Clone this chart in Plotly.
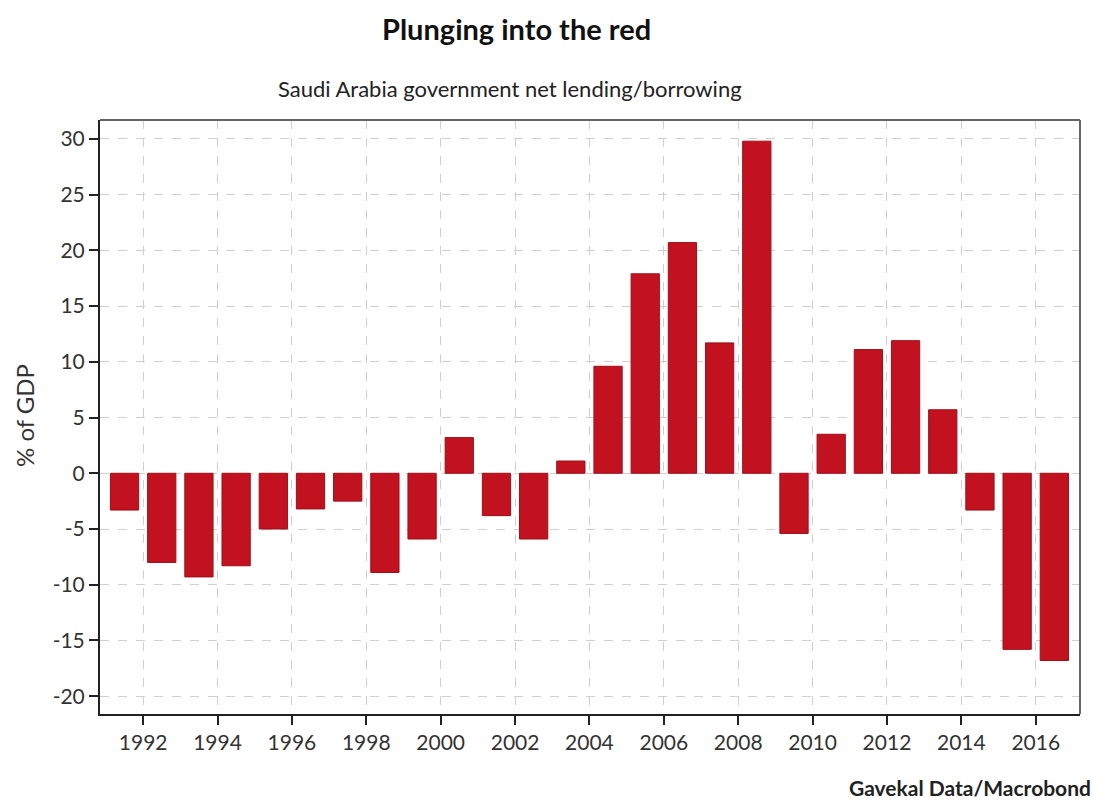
import plotly.graph_objects as go

years = list(range(1991, 2017))
values = [-3.3, -8.0, -9.3, -8.3, -5.0, -3.2, -2.5, -8.9, -5.9, 3.2,
          -3.8, -5.9, 1.1, 9.6, 17.9, 20.7, 11.7, 29.8, -5.4, 3.5,
          11.1, 11.9, 5.7, -3.3, -15.8, -16.8]
tick_years = list(range(1992, 2017, 2))
y_ticks = [-20, -15, -10, -5, 0, 5, 10, 15, 20, 25, 30]
y_labels = [str(v) for v in y_ticks]

FONT = "Lato"
OFF = 8  # page body margin
W, H = 1099 - OFF, 802 - OFF
L, R, T, B = 100 - OFF, 19, 120 - OFF, 88
PW, PH = W - L - R, H - T - B

x_mid = [y + 0.5 for y in years]

fig = go.Figure()
fig.add_trace(go.Bar(
    x=x_mid, y=values, width=0.76,
    marker=dict(color="#c3121f", line=dict(color="#9e0f18", width=1)),
    showlegend=False,
))

fig.update_layout(
    width=W, height=H,
    paper_bgcolor="white", plot_bgcolor="white",
    margin=dict(l=L, r=R, t=T, b=B, autoexpand=False),
    font=dict(family=FONT, color="#222", size=21),
    showlegend=False,
)
fig.update_xaxes(
    range=[1990.84, 2017.19], tickmode="array", tickvals=tick_years,
    ticktext=[str(t) for t in tick_years],
    showgrid=True, gridcolor="#cfcfcf", griddash="dash", gridwidth=1,
    ticks="outside", ticklen=9, tickcolor="#222", tickwidth=1.5,
    showline=True, linecolor="#222", linewidth=2,
    zeroline=False,
    tickfont=dict(size=21, color="#333"),
)
fig.update_yaxes(
    range=[-21.6, 31.7], tickmode="array", tickvals=y_ticks, ticktext=y_labels,
    showgrid=True, gridcolor="#cfcfcf", griddash="dash", gridwidth=1,
    ticks="outside", ticklen=9, tickcolor="#222", tickwidth=1.5,
    showline=True, linecolor="#222", linewidth=2,
    zeroline=False,
    tickfont=dict(size=21, color="#333"),
)
# grey top/right frame
fig.add_shape(type="line", xref="paper", yref="paper", x0=0, x1=1, y0=1, y1=1,
              line=dict(color="#666", width=2))
fig.add_shape(type="line", xref="paper", yref="paper", x0=1, x1=1, y0=0, y1=1,
              line=dict(color="#666", width=2))

def px(xp):  # page x -> paper coordinate
    return (xp - OFF - L) / PW

def py(yp):  # page y -> paper coordinate
    return 1 - (yp - OFF - T) / PH

fig.add_annotation(text="<b>Plunging into the red</b>", xref="paper", yref="paper",
                   x=px(516), y=py(28), xanchor="center", yanchor="middle",
                   showarrow=False, font=dict(size=29, color="#111", family=FONT))
fig.add_annotation(text="Saudi Arabia government net lending/borrowing",
                   xref="paper", yref="paper", x=px(510), y=py(88),
                   xanchor="center", yanchor="middle", showarrow=False,
                   font=dict(size=22, color="#222", family=FONT))
fig.add_annotation(text="% of GDP", xref="paper", yref="paper",
                   x=px(24), y=py(416), xanchor="center", yanchor="middle",
                   textangle=-90, showarrow=False,
                   font=dict(size=24, color="#333", family=FONT))
fig.add_annotation(text="<b>Gavekal Data/Macrobond</b>",
                   xref="paper", yref="paper", x=px(1093), y=py(787),
                   xanchor="right", yanchor="middle", showarrow=False,
                   font=dict(size=21, color="#222", family=FONT))

fig.write_html("out.html")
